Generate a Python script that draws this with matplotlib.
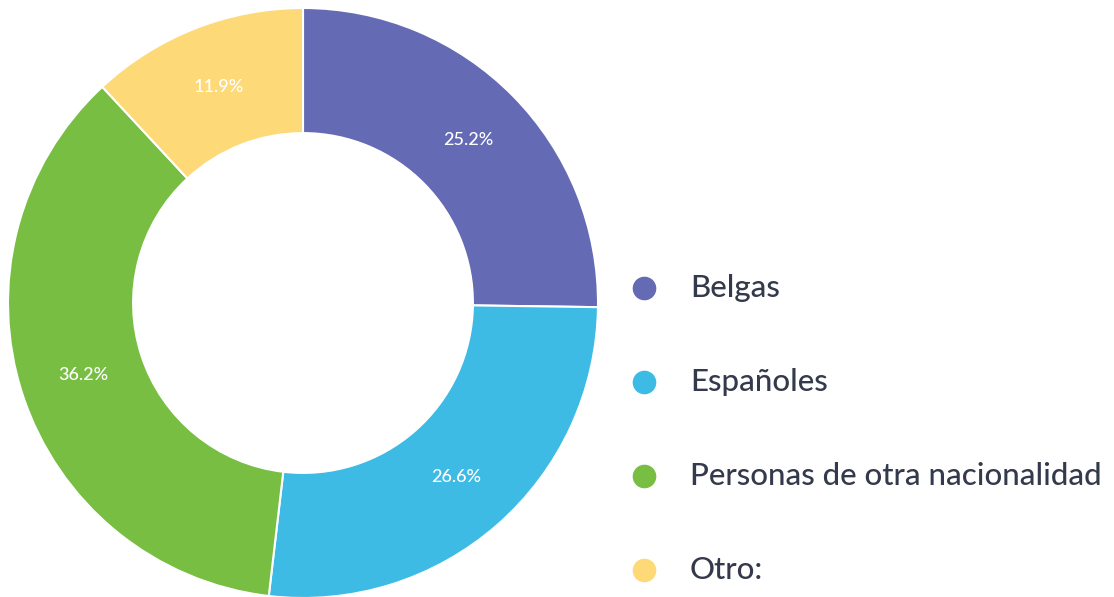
import matplotlib
matplotlib.use("Agg")
import matplotlib.pyplot as plt
from matplotlib.lines import Line2D

plt.rcParams['font.family'] = ['Lato', 'DejaVu Sans']

categorias = ['Belgas', 'Españoles', 'Personas de otra nacionalidad', 'Otro:']
porcentajes = [25.2, 26.6, 36.2, 11.9]
colores = ['#646ab3', '#3dbbe4', '#77be43', '#fdd977']

W, H = 1114, 597
fig = plt.figure(figsize=(W / 100, H / 100), dpi=100)

# donut centred at (303, 303) px, outer radius 295 px
cx, cy, r = 303, 303, 295
ax = fig.add_axes([(cx - r) / W, (H - cy - r) / H, 2 * r / W, 2 * r / H])
wedges, textos, autotextos = ax.pie(
    porcentajes, colors=colores, startangle=90, counterclock=False,
    radius=1, autopct='%.1f%%', pctdistance=0.785,
    wedgeprops=dict(width=0.424, edgecolor='white', linewidth=1.5),
    textprops=dict(color='white', fontsize=13, fontweight='medium'))
ax.set_xlim(-1, 1)
ax.set_ylim(-1, 1)
ax.set_aspect('equal')
ax.axis('off')

# legend on the right
y0, paso = 288, 94
for i, (cat, col) in enumerate(zip(categorias, colores)):
    y = 1 - (y0 + i * paso) / H
    fig.add_artist(Line2D([644 / W], [y], marker='o', markersize=16,
                          color=col, linestyle='none', transform=fig.transFigure))
    fig.text(690 / W, y, cat, fontsize=22.5, color='#343a4b',
             fontweight='medium', va='center', ha='left')

fig.savefig('out.png', dpi=100)
